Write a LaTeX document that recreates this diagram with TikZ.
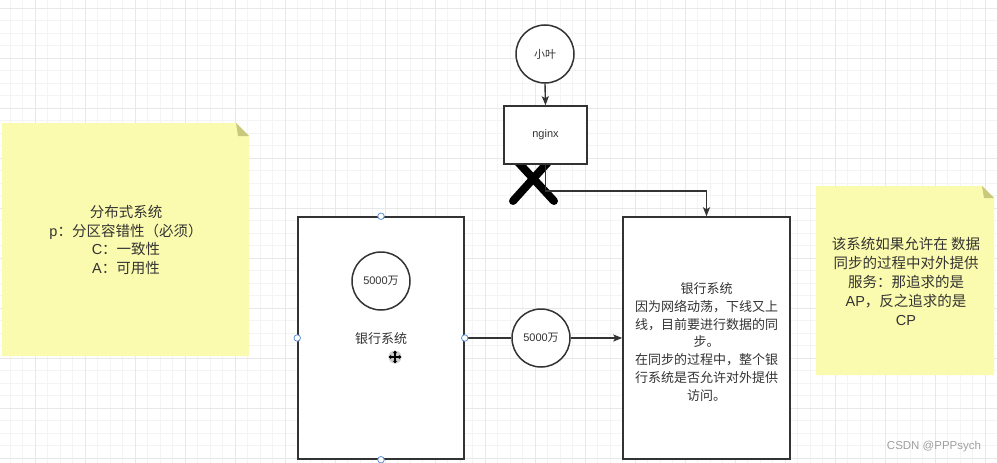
\documentclass[tikz,border=0pt]{standalone}
\usepackage{fontspec}
\setmainfont{Noto Sans CJK SC}
\newfontfamily\latinfont{Liberation Sans}
\usetikzlibrary{arrows.meta}
\definecolor{ink}{HTML}{333333}
\definecolor{notefill}{HTML}{FBFBAF}
\definecolor{notefold}{HTML}{C9C97E}
\definecolor{gridminor}{HTML}{F4F4F4}
\definecolor{gridmajor}{HTML}{E8E8E8}
\definecolor{handleblue}{HTML}{5B8FD6}
\tikzset{
  shapeline/.style={draw=ink, line width=1.5pt, fill=white, text=ink, inner sep=0pt},
  circnode/.style={shapeline, circle, minimum size=58pt, font=\fontsize{11}{13}\selectfont},
  boxnode/.style={shapeline, rectangle},
  conn/.style={draw=ink, line width=1.4pt},
  arr/.style={conn, -{Stealth[length=9pt,width=7pt,inset=2pt]}},
  handlept/.style={circle, draw=handleblue, fill=white, line width=0.8pt, minimum size=6.5pt, inner sep=0pt},
  notetext/.style={text=ink, align=center, font=\fontsize{14.5}{18.7}\selectfont},
}
\begin{document}
\begin{tikzpicture}[x=1pt,y=-1pt]
\useasboundingbox (0,0) rectangle (997,463);
\fill[white] (0,0) rectangle (997,463);
% grid
\foreach \i in {0,...,79} \draw[gridminor, line width=0.7pt] ({10+12.5*\i},0) -- ++(0,463);
\foreach \i in {0,...,37} \draw[gridminor, line width=0.7pt] (0,{8+12.5*\i}) -- ++(997,0);
\foreach \i in {0,...,19} \draw[gridmajor, line width=0.8pt] ({35+50*\i},0) -- ++(0,463);
\foreach \i in {0,...,9} \draw[gridmajor, line width=0.8pt] (0,{8+50*\i}) -- ++(997,0);

% left note
\fill[notefill] (2,123) -- (236,123) -- (249,136) -- (249,356) -- (2,356) -- cycle;
\fill[notefold] (236,123) -- (238,136) -- (249,136) -- cycle;
\node[notetext] (leftnote) at (126,240) {分布式系统\\{\latinfont p}：分区容错性（必须）\\{\latinfont C}：一致性\\{\latinfont A}：可用性};

% right note
\fill[notefill] (816,186) -- (982,186) -- (994,198) -- (994,375) -- (816,375) -- cycle;
\fill[notefold] (982,186) -- (984,198) -- (994,198) -- cycle;
\node[notetext, font=\fontsize{14.5}{19}\selectfont] (rightnote) at (906,281) {该系统如果允许在 数据\\同步的过程中对外提供\\服务：那追求的是\\{\latinfont AP}，反之追求的是\\{\latinfont CP}};

% cross mark
\draw[black, line width=8pt, line cap=round] (516,160) -- (554,201);
\draw[black, line width=8pt, line cap=round] (550,160) -- (513,201);

% nodes
\node[circnode] (ye) at (545,54) {小叶};
\node[boxnode, minimum width=83pt, minimum height=58pt, font=\latinfont\fontsize{11}{13}\selectfont] (ngx) at (545.5,135) {nginx};
\node[boxnode, minimum width=166pt, minimum height=242pt] (lbank) at (381,338) {};
\node[circnode] (lmoney) at (381,281) {{\latinfont 5000}万};
\node[text=ink, font=\fontsize{13}{16}\selectfont] (llabel) at (381,339) {银行系统};
\node[circnode] (mmoney) at (541,338) {{\latinfont 5000}万};
\node[boxnode, minimum width=167pt, minimum height=242pt] (rbank) at (706.5,338) {};
\node[text=ink, align=center, font=\fontsize{13}{17.8}\selectfont] (rlabel) at (706.5,342) {银行系统\\因为网络动荡，下线又上\\线，目前要进行数据的同\\步。\\在同步的过程中，整个银\\行系统是否允许对外提供\\访问。};
\coordinate (turn) at (706.5,191);

% connectors
\draw[arr] (ye.south) -- (ngx.north);
\draw[arr] (ngx.south) |- (turn) -- (rbank.north);
\draw[conn] (lbank.east) -- (mmoney.west);
\draw[arr] (mmoney.east) -- (rbank.west);

% selection handles
\node[handlept] (h1) at (lbank.north) {};
\node[handlept] (h2) at (lbank.south) {};
\node[handlept] (h3) at (lbank.west) {};
\node[handlept] (h4) at (lbank.east) {};

% move cursor
\fill[gray!55, opacity=0.7] (395,357) circle (6.5);
\draw[black, line width=1.2pt, {Triangle[length=2.6pt,width=4pt]}-{Triangle[length=2.6pt,width=4pt]}] (388.5,357) -- (401.5,357);
\draw[black, line width=1.2pt, {Triangle[length=2.6pt,width=4pt]}-{Triangle[length=2.6pt,width=4pt]}] (395,350.5) -- (395,363.5);

% watermark
\node[text=gray!75, font=\latinfont\fontsize{11.5}{13}\selectfont] (wm) at (934,447) {CSDN @PPPsych};
\end{tikzpicture}
\end{document}
